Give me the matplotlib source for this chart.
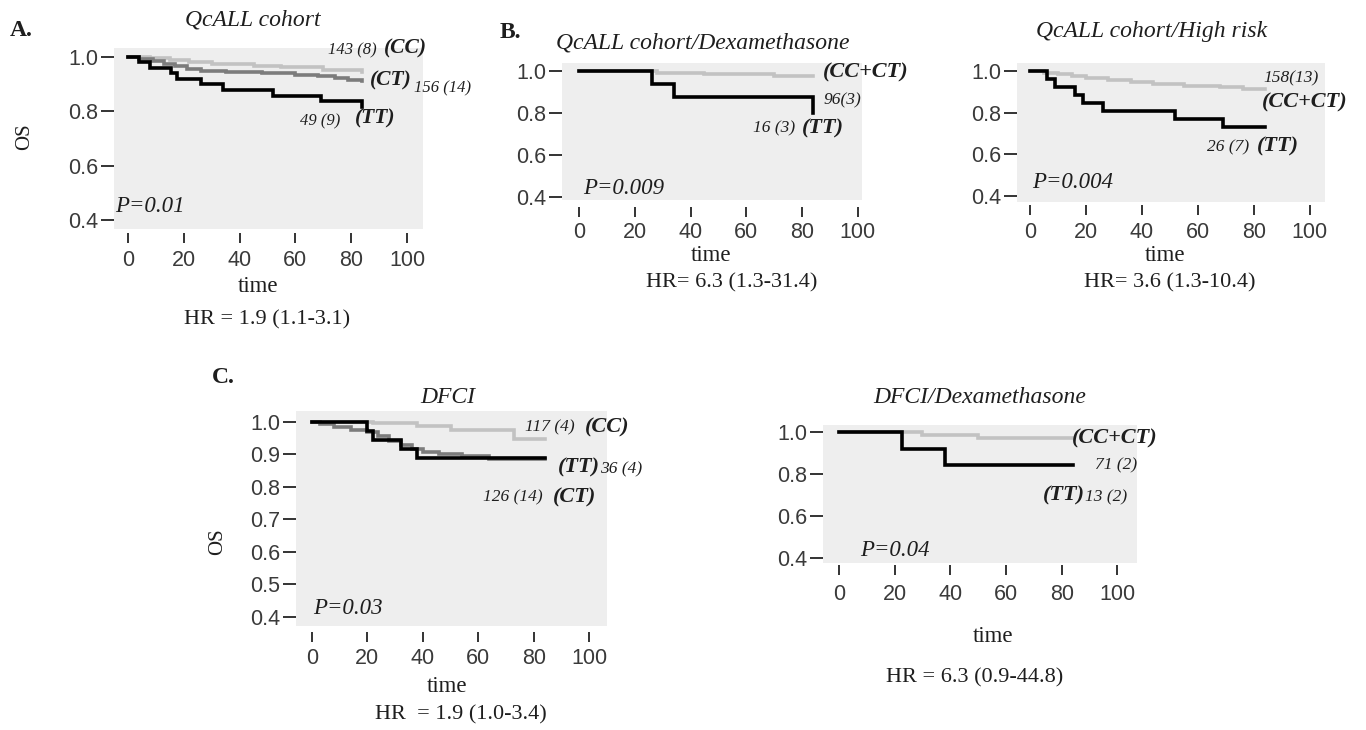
import matplotlib
matplotlib.use("Agg")
import matplotlib.pyplot as plt

W, H = 1366, 730

# A. QcALL cohort (CC / CT / TT)
a_cc_t = [0, 8, 15, 22, 30, 45, 55, 70, 84]
a_cc_s = [1.0, 0.995, 0.99, 0.982, 0.975, 0.968, 0.962, 0.952, 0.946]
a_ct_t = [0, 4, 9, 13, 17, 21, 26, 35, 48, 60, 68, 74, 79, 84]
a_ct_s = [1.0, 0.993, 0.985, 0.975, 0.965, 0.957, 0.95, 0.944, 0.94, 0.935, 0.93, 0.922, 0.915, 0.912]
a_tt_t = [0, 4, 8, 15.5, 17.5, 26, 34, 52, 69, 84]
a_tt_s = [1.0, 0.98, 0.96, 0.94, 0.92, 0.9, 0.878, 0.857, 0.837, 0.816]

# B. QcALL cohort / Dexamethasone (CC+CT / TT)
bm_cc_t = [0, 28, 45, 70, 84]
bm_cc_s = [1.0, 0.99, 0.985, 0.975, 0.975]
bm_tt_t = [0, 26, 34, 84]
bm_tt_s = [1.0, 0.9375, 0.875, 0.80]

# B. QcALL cohort / High risk (CC+CT / TT)
br_cc_t = [0, 5, 10, 15, 20, 28, 36, 44, 55, 68, 76, 84]
br_cc_s = [1.0, 0.99, 0.983, 0.975, 0.965, 0.955, 0.945, 0.935, 0.93, 0.925, 0.915, 0.912]
br_tt_t = [0, 6, 9, 16, 19, 26, 52, 69, 84]
br_tt_s = [1.0, 0.962, 0.923, 0.885, 0.846, 0.808, 0.769, 0.731, 0.731]

# C. DFCI (CC / CT / TT)
cl_cc_t = [0, 22, 38, 50, 73, 84]
cl_cc_s = [1.0, 0.995, 0.987, 0.976, 0.947, 0.947]
cl_ct_t = [0, 3, 8, 14, 20, 24, 28, 32, 36, 40, 46, 54, 64, 84]
cl_ct_s = [1.0, 0.992, 0.984, 0.976, 0.968, 0.955, 0.94, 0.928, 0.915, 0.908, 0.9, 0.893, 0.886, 0.886]
cl_tt_t = [0, 20, 22, 32, 38, 84]
cl_tt_s = [1.0, 0.972, 0.944, 0.917, 0.889, 0.889]

# C. DFCI / Dexamethasone (CC+CT / TT)
cr_cc_t = [0, 30, 50, 84]
cr_cc_s = [1.0, 0.986, 0.972, 0.972]
cr_tt_t = [0, 22.5, 38, 84]
cr_tt_s = [1.0, 0.923, 0.846, 0.846]

x_ticks = [0, 20, 40, 60, 80, 100]
y_ticks_short = [0.4, 0.6, 0.8, 1.0]
y_ticks_long = [0.4, 0.5, 0.6, 0.7, 0.8, 0.9, 1.0]

C_LIGHT = "#c2c2c2"
C_MID = "#7c7c7c"
C_DARK = "#000000"
TXT = "#1e1e1e"
SERIF = "Liberation Serif"
SANS = "Liberation Sans"

fig = plt.figure(figsize=(W / 100, H / 100), dpi=100)
fig.patch.set_facecolor("white")


def add_panel(box, xlim, ylim, yticks, spine_off, xpad):
    left, top, right, bottom = box
    ax = fig.add_axes([left / W, 1 - bottom / H, (right - left) / W, (bottom - top) / H])
    ax.set_facecolor("#eeeeee")
    for s in ax.spines.values():
        s.set_visible(False)
    ax.spines["bottom"].set_position(("outward", spine_off))
    ax.set_xlim(*xlim)
    ax.set_ylim(*ylim)
    ax.set_xticks(x_ticks)
    ax.set_yticks(yticks)
    ax.set_yticklabels([f"{v:.1f}" for v in yticks])
    ax.tick_params(axis="y", direction="out", length=9.5, width=1.4, color="#333333",
                   pad=2, labelsize=15.5, labelcolor="#3a3a3a")
    ax.tick_params(axis="x", direction="out", length=7.2, width=1.4, color="#333333",
                   pad=xpad, labelsize=15.5, labelcolor="#3a3a3a")
    for lab in ax.get_xticklabels() + ax.get_yticklabels():
        lab.set_fontfamily(SANS)
    return ax


def curve(ax, t, s, color):
    ax.step(t, s, where="post", color=color, lw=2.6, solid_joinstyle="miter")


def ftext(x, y, s, size, style="italic", weight="normal", ha="left", **kw):
    fig.text(x / W, 1 - y / H, s, fontsize=size, fontstyle=style, fontweight=weight,
             ha=ha, va="center", family=SERIF, color=TXT, **kw)


# Panel A
ax = add_panel((114, 48, 423, 229), (-5.0, 105.7), (0.367, 1.033), y_ticks_short, 3, 5)
curve(ax, a_cc_t, a_cc_s, C_LIGHT)
curve(ax, a_ct_t, a_ct_s, C_MID)
curve(ax, a_tt_t, a_tt_s, C_DARK)
ftext(10, 31, "A.", 17, style="normal", weight="bold")
ftext(253, 20, "QcALL cohort", 17, ha="center")
ftext(25, 137, "OS", 15, style="normal", ha="center", rotation=90)
ftext(258, 287, "time", 16.5, style="normal", ha="center")
ftext(267, 320, "HR = 1.9 (1.1-3.1)", 16, style="normal", ha="center")
ftext(115, 207, "P=0.01", 16.5)
ftext(328, 50, "143 (8)", 12)
ftext(384, 48, "(CC)", 15.5, weight="bold")
ftext(370, 80, "(CT)", 15.5, weight="bold")
ftext(414, 88, "156 (14)", 12)
ftext(300, 121, "49 (9)", 12)
ftext(355, 118, "(TT)", 15.5, weight="bold")

# Panel B, dexamethasone
ax = add_panel((562, 63, 862, 200), (-6.2, 101.6), (0.386, 1.038), y_ticks_short, 5, 4)
curve(ax, bm_cc_t, bm_cc_s, C_LIGHT)
curve(ax, bm_tt_t, bm_tt_s, C_DARK)
ftext(500, 32, "B.", 17, style="normal", weight="bold")
ftext(703, 43, "QcALL cohort/Dexamethasone", 17, ha="center")
ftext(711, 255, "time", 16.5, style="normal", ha="center")
ftext(732, 283, "HR= 6.3 (1.3-31.4)", 16, style="normal", ha="center")
ftext(583, 188, "P=0.009", 16.5)
ftext(823, 72, "(CC+CT)", 16, weight="bold")
ftext(823, 100, "96(3)", 12.5)
ftext(753, 128, "16 (3)", 12.5)
ftext(802, 128, "(TT)", 16, weight="bold")

# Panel B, high risk
ax = add_panel((1017, 63, 1325, 202), (-4.6, 105.4), (0.371, 1.038), y_ticks_short, 2, 5)
curve(ax, br_cc_t, br_cc_s, C_LIGHT)
curve(ax, br_tt_t, br_tt_s, C_DARK)
ftext(1152, 32, "QcALL cohort/High risk", 17, ha="center")
ftext(1165, 255, "time", 16.5, style="normal", ha="center")
ftext(1170, 283, "HR= 3.6 (1.3-10.4)", 16, style="normal", ha="center")
ftext(1032, 183, "P=0.004", 16.5)
ftext(1263, 78, "158(13)", 12.5)
ftext(1262, 102, "(CC+CT)", 16, weight="bold")
ftext(1207, 147, "26 (7)", 12.5)
ftext(1257, 146, "(TT)", 16, weight="bold")

# Panel C, DFCI
ax = add_panel((296, 411, 607, 626), (-5.7, 106.4), (0.371, 1.033), y_ticks_long, 4.5, 4)
curve(ax, cl_cc_t, cl_cc_s, C_LIGHT)
curve(ax, cl_ct_t, cl_ct_s, C_MID)
curve(ax, cl_tt_t, cl_tt_s, C_DARK)
ftext(212, 377, "C.", 17, style="normal", weight="bold")
ftext(448, 397, "DFCI", 17, ha="center")
ftext(218, 542, "OS", 15, style="normal", ha="center", rotation=90)
ftext(447, 687, "time", 16.5, style="normal", ha="center")
ftext(461, 715, "HR  = 1.9 (1.0-3.4)", 16, style="normal", ha="center")
ftext(313, 608, "P=0.03", 16.5)
ftext(525, 427, "117 (4)", 12.5)
ftext(585, 427, "(CC)", 16, weight="bold")
ftext(558, 467, "(TT)", 16, weight="bold")
ftext(600, 469, "36 (4)", 12.5)
ftext(483, 497, "126 (14)", 12.5)
ftext(553, 497, "(CT)", 16, weight="bold")

# Panel C, DFCI dexamethasone
ax = add_panel((823, 425, 1137, 563), (-5.7, 107.0), (0.378, 1.035), y_ticks_short, 1.5, 6.5)
curve(ax, cr_cc_t, cr_cc_s, C_LIGHT)
curve(ax, cr_tt_t, cr_tt_s, C_DARK)
ftext(980, 397, "DFCI/Dexamethasone", 17, ha="center")
ftext(993, 637, "time", 16.5, style="normal", ha="center")
ftext(975, 678, "HR = 6.3 (0.9-44.8)", 16, style="normal", ha="center")
ftext(860, 550, "P=0.04", 16.5)
ftext(1072, 438, "(CC+CT)", 16, weight="bold")
ftext(1095, 465, "71 (2)", 12.5)
ftext(1043, 495, "(TT)", 16, weight="bold")
ftext(1085, 497, "13 (2)", 12.5)

fig.savefig("out.png", dpi=100)
